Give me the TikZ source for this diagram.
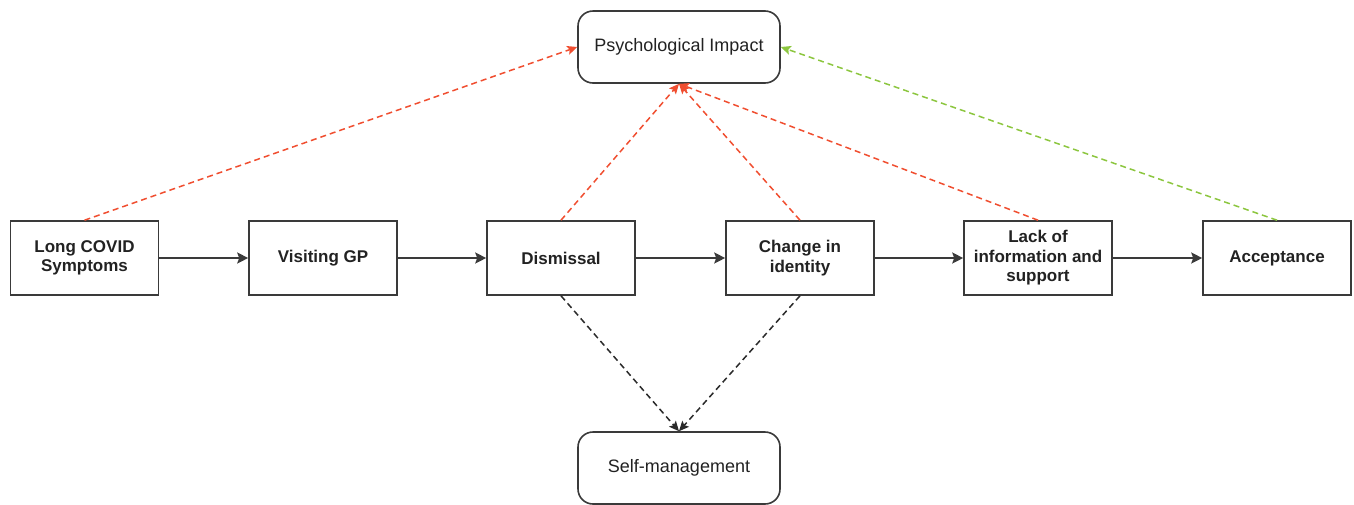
\documentclass[tikz,border=0pt]{standalone}
\usepackage{fontspec}
\setmainfont{Liberation Sans}
\usetikzlibrary{arrows.meta}
\definecolor{boxline}{HTML}{3A3A3A}
\definecolor{redarrow}{HTML}{F04E30}
\definecolor{greenarrow}{HTML}{8CC63F}
\definecolor{darkarrow}{HTML}{2A2A2A}
\definecolor{txt}{HTML}{222222}
\tikzset{
  stage/.style={draw=boxline, line width=1.6pt, fill=white, minimum width=148pt, minimum height=74pt,
    inner sep=2pt, align=center, font=\fontsize{17}{19.5}\selectfont\bfseries, text=txt},
  outcome/.style={draw=boxline, line width=1.6pt, fill=white, rounded corners=15pt, minimum width=202pt,
    minimum height=72pt, inner sep=2pt, align=center, font=\fontsize{18}{21}\selectfont, text=txt},
  flow/.style={draw=boxline, line width=1.6pt, -{Stealth[length=11pt,width=11pt,inset=2pt]}},
  redlink/.style={draw=redarrow, line width=1.5pt, dash pattern=on 6pt off 4pt, -{Stealth[length=10pt,width=9pt,inset=2pt]}},
  greenlink/.style={draw=greenarrow, line width=1.5pt, dash pattern=on 6pt off 4pt, -{Stealth[length=10pt,width=9pt,inset=2pt]}},
  darklink/.style={draw=darkarrow, line width=1.5pt, dash pattern=on 6pt off 4pt, -{Stealth[length=10pt,width=9pt,inset=2pt]}}
}
\begin{document}
\begin{tikzpicture}[x=1pt, y=-1pt]
\useasboundingbox (0,0) rectangle (1354,504);
\node[outcome] (psy) at (679,47) {Psychological Impact};
\node[outcome] (self) at (679,468) {Self-management};
\node[stage] (lc) at (84.5,258) {Long COVID\\Symptoms};
\node[stage] (gp) at (323,258) {Visiting GP};
\node[stage] (dis) at (561,258) {Dismissal};
\node[stage] (chg) at (800,258) {Change in\\identity};
\node[stage] (lack) at (1038,258) {Lack of\\information and\\support};
\node[stage] (acc) at (1277,258) {Acceptance};
\draw[flow] (lc) -- (gp);
\draw[flow] (gp) -- (dis);
\draw[flow] (dis) -- (chg);
\draw[flow] (chg) -- (lack);
\draw[flow] (lack) -- (acc);
\draw[redlink] (lc.north) -- (psy.west);
\draw[redlink] (dis.north) -- (psy.south);
\draw[redlink] (chg.north) -- (psy.south);
\draw[redlink] (lack.north) -- (psy.south);
\draw[greenlink] (acc.north) -- (psy.east);
\draw[darklink] (dis.south) -- (self.north);
\draw[darklink] (chg.south) -- (self.north);
\end{tikzpicture}
\end{document}
